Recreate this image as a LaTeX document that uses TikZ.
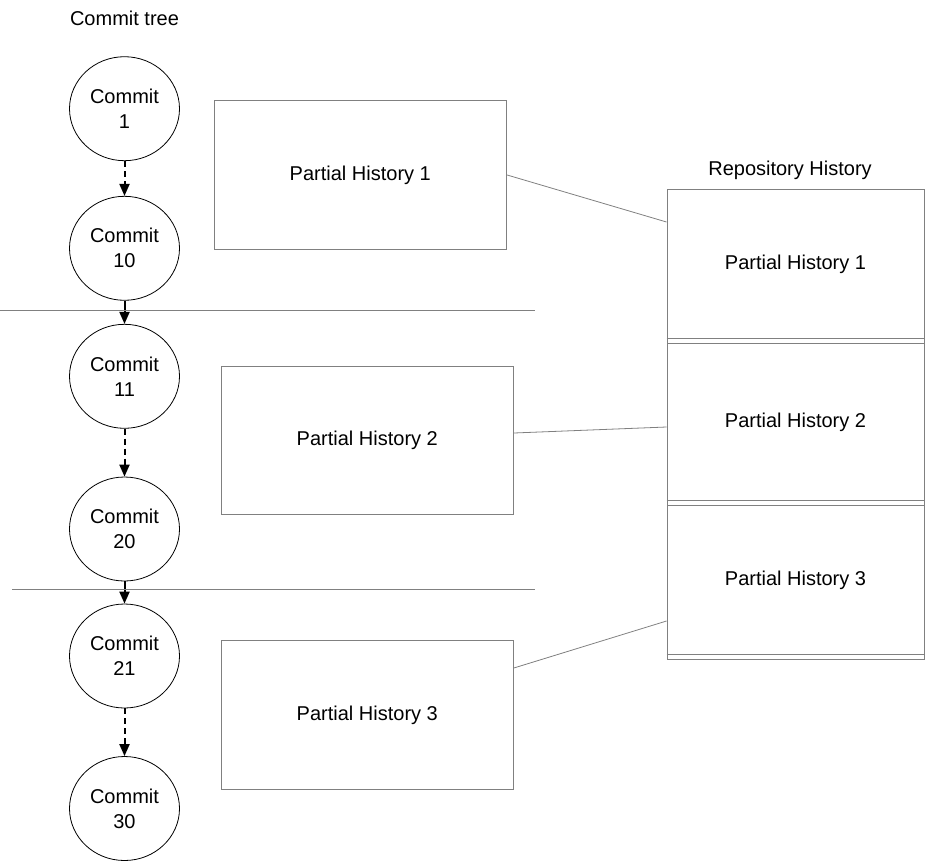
\documentclass[tikz,border=0pt]{standalone}
\usepackage{fontspec}
\setmainfont{Liberation Sans}
\usetikzlibrary{shapes.geometric,arrows.meta}
\begin{document}
\begin{tikzpicture}[x=1pt,y=-1pt,
  every node/.style={font=\fontsize{20}{25}\selectfont, align=center},
  commit/.style={draw=black, line width=0.8pt, ellipse, minimum width=110pt, minimum height=104pt, inner sep=0pt},
  phbox/.style={draw=gray, line width=1pt, rectangle, minimum width=292pt, minimum height=148.5pt, inner sep=0pt},
  rhbox/.style={draw=gray, line width=1pt, rectangle, minimum width=257pt, inner sep=0pt},
  link/.style={draw=gray, line width=0.8pt},
  sep/.style={draw=gray, line width=0.8pt},
  solidarrow/.style={draw=black, line width=2pt, -{Triangle[length=12pt,width=10pt]}},
  dasharrow/.style={solidarrow, dash pattern=on 6pt off 4pt}
]
\useasboundingbox (0,0) rectangle (925,862);

% labels
\node (treelabel) at (124.5,18) {Commit tree};
\node (repolabel) at (790,170) {Repository History};

% commits
\node[commit] (c1)  at (124.5,108.7) {Commit\\1};
\node[commit] (c10) at (124.5,248.3) {Commit\\10};
\node[commit] (c11) at (124.5,376.3) {Commit\\11};
\node[commit] (c20) at (124.5,529) {Commit\\20};
\node[commit] (c21) at (124.5,656) {Commit\\21};
\node[commit] (c30) at (124.5,808.5) {Commit\\30};

\draw[dasharrow] (c1) -- (c10);
\draw[solidarrow] (c10) -- (c11);
\draw[dasharrow] (c11) -- (c20);
\draw[solidarrow] (c20) -- (c21);
\draw[dasharrow] (c21) -- (c30);

% separators
\coordinate (s1a) at (0,310.3);
\coordinate (s1b) at (535,310.3);
\coordinate (s2a) at (12,589);
\coordinate (s2b) at (535,589);
\draw[sep] (s1a) -- (s1b);
\draw[sep] (s2a) -- (s2b);

% partial history boxes
\node[phbox] (ph1) at (360.3,174.9) {Partial History 1};
\node[phbox] (ph2) at (367.3,440.7) {Partial History 2};
\node[phbox] (ph3) at (367.3,715) {Partial History 3};

% repository history boxes
\node[rhbox, minimum height=154pt] (rh1) at (795.5,266) {};
\node[rhbox, minimum height=162pt] (rh2) at (795.5,424) {};
\node[rhbox, minimum height=154pt] (rh3) at (795.5,582) {};
\draw[gray, line width=1pt] ([yshift=5pt]rh1.south west) -- ([yshift=5pt]rh1.south east);
\draw[gray, line width=1pt] ([yshift=5pt]rh2.south west) -- ([yshift=5pt]rh2.south east);
\draw[gray, line width=1pt] ([yshift=5pt]rh3.south west) -- ([yshift=5pt]rh3.south east);
\node (rt1) at (795.5,264.5) {Partial History 1};
\node (rt2) at (795.5,422.5) {Partial History 2};
\node (rt3) at (795.5,580.5) {Partial History 3};

% links
\draw[link] (ph1.east) -- ([yshift=44pt]rh1.west);
\draw[link] ([yshift=7.7pt]ph2.east) -- ([yshift=-3pt]rh2.west);
\draw[link] ([yshift=47pt]ph3.east) -- ([yshift=-39pt]rh3.west);
\end{tikzpicture}
\end{document}
